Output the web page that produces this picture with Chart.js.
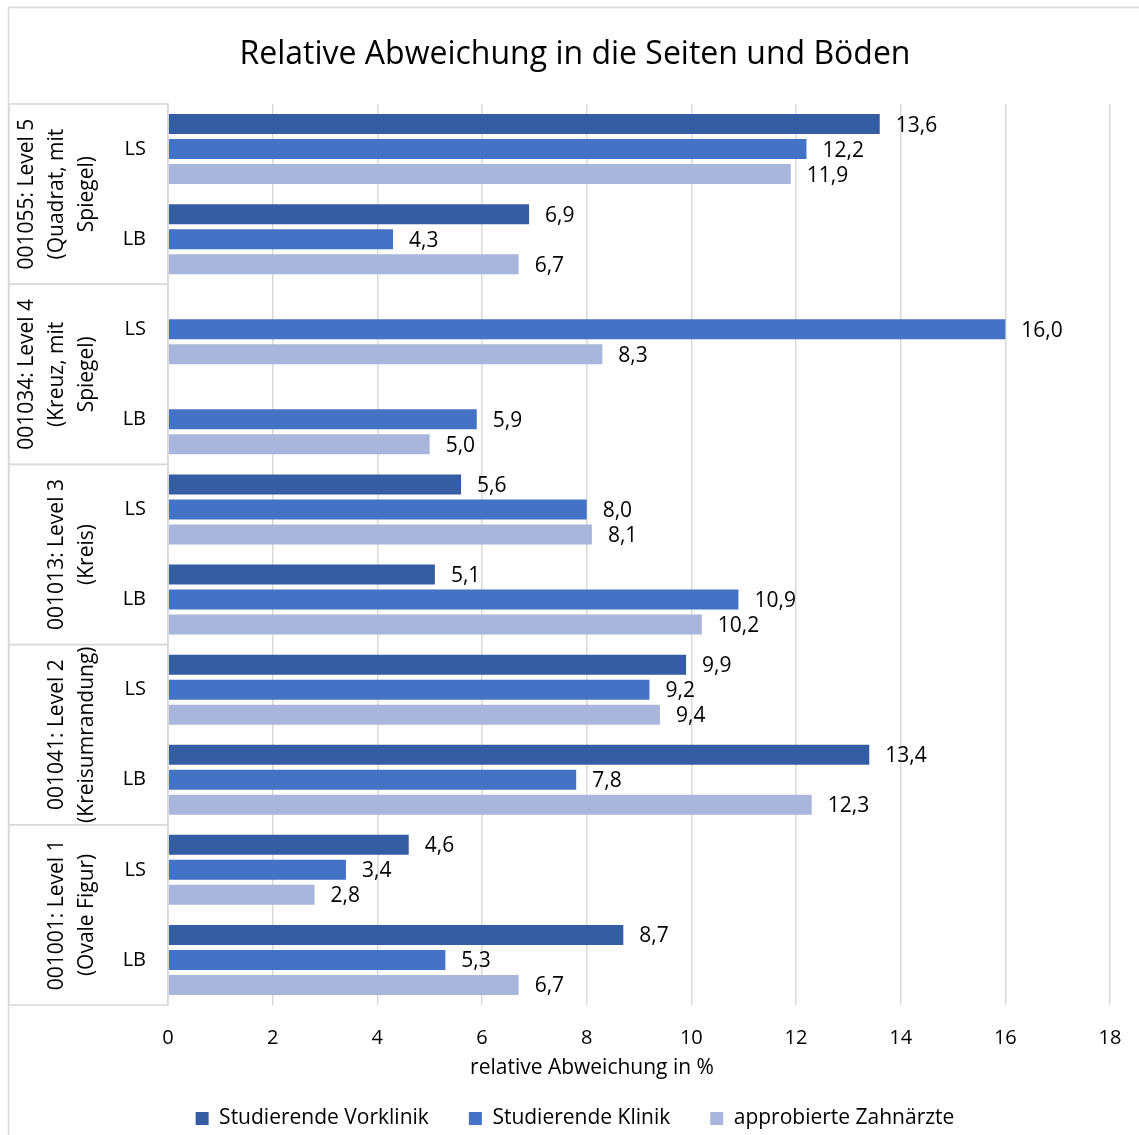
<!DOCTYPE html>
<html lang="de">
<head>
<meta charset="utf-8">
<title>Relative Abweichung in die Seiten und Böden</title>
<script src="https://cdn.jsdelivr.net/npm/chart.js@4.4.1/dist/chart.umd.min.js"></script>
<style>
  html, body { margin: 0; padding: 0; background: #fff; overflow: hidden; }
  #chart { display: block; }
</style>
</head>
<body>
<canvas id="chart" width="1150" height="1139"></canvas>
<script>
// rows from top to bottom: two rows (LS / LB) per level
const rowLabels = ['LS', 'LB', 'LS', 'LB', 'LS', 'LB', 'LS', 'LB', 'LS', 'LB'];
const groupLabels = [
  ['001055: Level 5', '(Quadrat, mit', 'Spiegel)'],
  ['001034: Level 4', '(Kreuz, mit', 'Spiegel)'],
  ['001013: Level 3', '(Kreis)'],
  ['001041: Level 2', '(Kreisumrandung)'],
  ['001001: Level 1', '(Ovale Figur)']
];
const seriesNames = ['Studierende Vorklinik', 'Studierende Klinik', 'approbierte Zahnärzte'];
const vorklinik  = [13.6, 6.9, null, null, 5.6, 5.1, 9.9, 13.4, 4.6, 8.7];
const klinik     = [12.2, 4.3, 16.0, 5.9, 8.0, 10.9, 9.2, 7.8, 3.4, 5.3];
const zahnaerzte = [11.9, 6.7, 8.3, 5.0, 8.1, 10.2, 9.4, 12.3, 2.8, 6.7];
const xTicks = [0, 2, 4, 6, 8, 10, 12, 14, 16, 18];
const xTitle = 'relative Abweichung in %';

const colors = ['#355DA3', '#4472C4', '#A9B5DB'];
const lineColor = '#D9D9D9';
const fontFamily = '"Open Sans", sans-serif';

Chart.defaults.font.family = fontFamily;
Chart.defaults.color = '#000';

// white background plus the outer frame
const frame = {
  id: 'frame',
  beforeDraw(chart) {
    const ctx = chart.ctx;
    ctx.save();
    ctx.fillStyle = '#fff';
    ctx.fillRect(0, 0, chart.width, chart.height);
    ctx.strokeStyle = lineColor;
    ctx.lineWidth = 1.5;
    ctx.strokeRect(8.5, 7.5, chart.width + 20, chart.height + 20);
    ctx.restore();
  }
};

// boxes with the rotated level names left of the LS/LB labels
const groupBoxes = {
  id: 'groupBoxes',
  afterDraw(chart) {
    const y = chart.scales.y;
    const area = chart.chartArea;
    const ctx = chart.ctx;
    const step = (y.bottom - y.top) / rowLabels.length;
    ctx.save();
    ctx.strokeStyle = lineColor;
    ctx.lineWidth = 1.5;
    ctx.fillStyle = '#000';
    ctx.font = '21px ' + fontFamily;
    ctx.textAlign = 'center';
    ctx.textBaseline = 'middle';
    groupLabels.forEach((lines, i) => {
      const top = y.getPixelForTick(i * 2) - step / 2;
      const bottom = y.getPixelForTick(i * 2 + 1) + step / 2;
      ctx.strokeRect(9, top, area.left - 9, bottom - top);
      ctx.save();
      ctx.translate(87, (top + bottom) / 2);
      ctx.rotate(-Math.PI / 2);
      lines.forEach((t, k) => ctx.fillText(t, 0, (k - (lines.length - 1)) * 30));
      ctx.restore();
    });
    // x axis title, sits a bit left of the plot centre
    ctx.fillText(xTitle, 592, area.bottom + 63);
    ctx.restore();
  }
};

// value labels right of each bar, German decimal comma
const valueLabels = {
  id: 'valueLabels',
  afterDatasetsDraw(chart) {
    const ctx = chart.ctx;
    ctx.save();
    ctx.fillStyle = '#000';
    ctx.font = '21px ' + fontFamily;
    ctx.textAlign = 'left';
    ctx.textBaseline = 'middle';
    chart.data.datasets.forEach((ds, i) => {
      chart.getDatasetMeta(i).data.forEach((bar, j) => {
        const v = ds.data[j];
        if (v == null) return;
        ctx.fillText(v.toFixed(1).replace('.', ','), bar.x + 16, bar.y + 1.5);
      });
    });
    ctx.restore();
  }
};

const barOpts = { categoryPercentage: 0.8325, barPercentage: 0.8 };

new Chart(document.getElementById('chart'), {
  type: 'bar',
  data: {
    labels: rowLabels,
    datasets: [
      { label: seriesNames[0], data: vorklinik, backgroundColor: colors[0], ...barOpts },
      { label: seriesNames[1], data: klinik, backgroundColor: colors[1], ...barOpts },
      { label: seriesNames[2], data: zahnaerzte, backgroundColor: colors[2], ...barOpts }
    ]
  },
  options: {
    indexAxis: 'y',
    responsive: false,
    animation: false,
    layout: { padding: 0 },
    plugins: {
      title: {
        display: true,
        text: 'Relative Abweichung in die Seiten und Böden',
        font: { size: 32, weight: 'normal' },
        color: '#000',
        padding: { top: 36, bottom: 29.6 }
      },
      legend: {
        position: 'bottom',
        labels: { boxWidth: 13, boxHeight: 13, padding: 40, font: { size: 21 }, color: '#000' }
      },
      tooltip: { enabled: false }
    },
    scales: {
      x: {
        min: 0,
        max: 18,
        afterBuildTicks(scale) { scale.ticks = xTicks.map(v => ({ value: v })); },
        afterFit(scale) { scale.height = 63; },
        grid: { color: lineColor, lineWidth: 1.5, drawTicks: false },
        border: { display: false },
        ticks: { padding: 21, font: { size: 20 }, color: '#000' }
      },
      y: {
        grid: { display: false, drawTicks: false },
        border: { display: false },
        ticks: { padding: 22, font: { size: 20 }, color: '#000' },
        afterFit(scale) { scale.width = 168; }
      },
      // empty strip on the right, keeps the plot narrower than title and legend
      yRight: {
        type: 'category',
        axis: 'y',
        position: 'right',
        grid: { display: false, drawTicks: false },
        border: { display: false },
        ticks: { display: false },
        afterFit(scale) { scale.width = 40; }
      }
    }
  },
  plugins: [frame, groupBoxes, valueLabels]
});
</script>
</body>
</html>
